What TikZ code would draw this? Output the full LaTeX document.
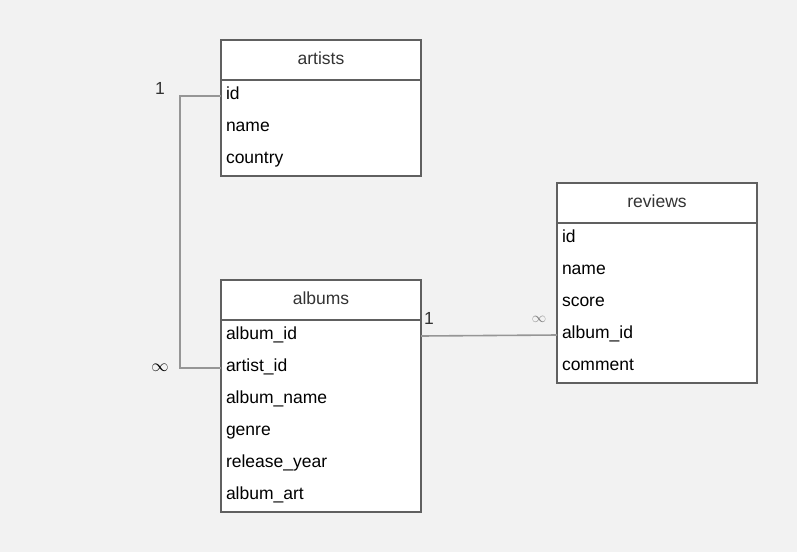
\documentclass[tikz,border=0pt]{standalone}
\usepackage{fontspec}
\setmainfont{Liberation Sans}
\usepackage{xcolor}
\usepackage{tikz}
\usetikzlibrary{positioning,fit,backgrounds}
\definecolor{canvasgray}{RGB}{242,242,242}
\definecolor{framegray}{RGB}{96,96,96}
\definecolor{linkgray}{RGB}{150,150,150}
\definecolor{titlegray}{RGB}{51,51,51}

\begin{document}
\begin{tikzpicture}[x=1pt, y=-1pt,
  header/.style={rectangle, draw=framegray, line width=1.6pt, minimum width=200pt, minimum height=40pt, inner sep=0pt, outer sep=0pt, text height=13pt, text depth=4pt, text=titlegray, font=\fontsize{17.5}{20}\selectfont},
  field/.style={rectangle, text width=190pt, inner xsep=5pt, inner ysep=0pt, outer sep=0pt, minimum height=32pt, text height=13pt, text depth=6.5pt, align=left, font=\fontsize{17.5}{20}\selectfont},
  frame/.style={rectangle, draw=framegray, fill=white, line width=1.6pt, inner sep=0pt},
  link/.style={draw=linkgray, line width=1.6pt},
  card/.style={text=titlegray, font=\fontsize{17.5}{20}\selectfont}]

  \begin{scope}[on background layer]
    \fill [canvasgray] (0,0) rectangle (797,552);
  \end{scope}
  \useasboundingbox (0,0) rectangle (797,552);

  % artists
  \node [header] (artists) at (321,60) {artists};
  \node [field, below=0pt of artists] (artists-id) {id};
  \node [field, below=0pt of artists-id] (artists-name) {name};
  \node [field, below=0pt of artists-name] (artists-country) {country};

  % albums
  \node [header] (albums) at (321,300) {albums};
  \node [field, below=0pt of albums] (albums-id) {album\_id};
  \node [field, below=0pt of albums-id] (albums-artist) {artist\_id};
  \node [field, below=0pt of albums-artist] (albums-name) {album\_name};
  \node [field, below=0pt of albums-name] (albums-genre) {genre};
  \node [field, below=0pt of albums-genre] (albums-year) {release\_year};
  \node [field, below=0pt of albums-year] (albums-art) {album\_art};

  % reviews
  \node [header] (reviews) at (657,203) {reviews};
  \node [field, below=0pt of reviews] (reviews-id) {id};
  \node [field, below=0pt of reviews-id] (reviews-name) {name};
  \node [field, below=0pt of reviews-name] (reviews-score) {score};
  \node [field, below=0pt of reviews-score] (reviews-album) {album\_id};
  \node [field, below=0pt of reviews-album] (reviews-comment) {comment};

  \begin{scope}[on background layer]
    \node [frame, fit=(artists)(artists-country)] (artists-box) {};
    \node [frame, fit=(albums)(albums-art)] (albums-box) {};
    \node [frame, fit=(reviews)(reviews-comment)] (reviews-box) {};
  \end{scope}

  \coordinate (bend) at (180,0);
  \draw [link] (artists-id.west) -- (bend |- artists-id.west) |- (albums-artist.west);
  \draw [link] (albums-id.east) -- (reviews-album.west);

  \node [card] (one-a) at (160,88) {1};
  \node [card, text=black] (many-a) at (160,368) {$\infty$};
  \node [card] (one-b) at (429,318) {1};
  \node [card, text=gray, font=\fontsize{14}{16}\selectfont] (many-b) at (539,319) {$\infty$};
\end{tikzpicture}
\end{document}
